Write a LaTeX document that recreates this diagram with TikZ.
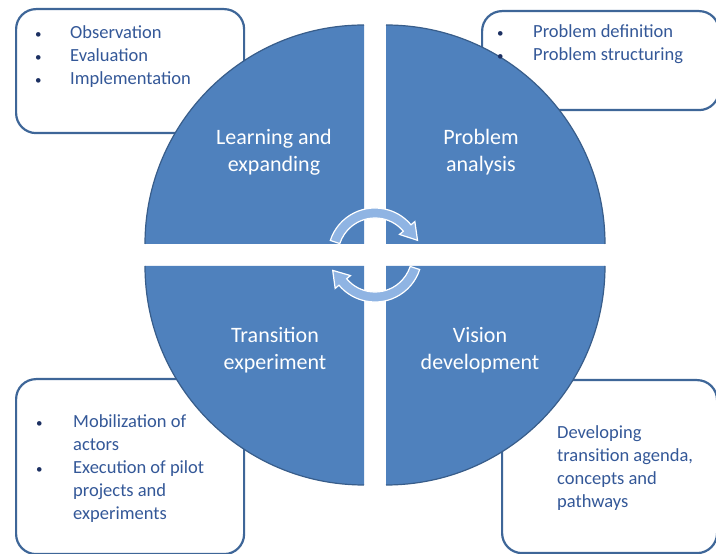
\documentclass[tikz,border=0pt]{standalone}
\usepackage{fontspec}
\setmainfont{Carlito}
\usepackage{array}
\usepackage{tikz}

\definecolor{quadblue}{RGB}{79,129,189}
\definecolor{quadedge}{RGB}{56,93,138}
\definecolor{boxedge}{RGB}{62,102,152}
\definecolor{boxtext}{RGB}{52,88,152}
\definecolor{bulletcol}{RGB}{28,48,98}
\definecolor{turnblue}{RGB}{143,180,227}
\newcommand{\itm}{\textcolor{bulletcol}{\fontsize{13}{13}\selectfont\textbullet}}

\begin{document}
\begin{tikzpicture}[x=1pt,y=1pt,
    box/.style={draw=boxedge,line width=2.2pt,fill=white,rounded corners=20pt,anchor=north west,inner sep=0pt},
    rim/.style={draw=quadedge,line width=1.2pt},
    phase/.style={text=white,font=\fontsize{22}{27}\selectfont,align=center,anchor=base,inner sep=0pt},
    items/.style={text=boxtext,font=\fontsize{18.5}{23}\selectfont,anchor=base west,inner sep=0pt,align=left},
    turn/.style={fill=turnblue,draw=white,line width=1.2pt}]
  \clip (0,0) rectangle (716,554);
  \node[box,minimum width=228,minimum height=124] (learnbox) at (15,546) {};
  \node[box,minimum width=237,minimum height=99] (problembox) at (481,544) {};
  \node[box,minimum width=228,minimum height=175] (experimentbox) at (15,176) {};
  \node[box,minimum width=215,minimum height=173] (visionbox) at (501,175) {};
  \foreach \cx/\cy/\a in {364/310/90, 386/310/0, 364/288/180, 386/288/270} {
    \fill[quadblue] (\cx,\cy) -- ++(\a:219) arc[start angle=\a,end angle=\a+90,radius=219] -- cycle;
    \draw[rim] (\cx,\cy) ++(\a:219) arc[start angle=\a,end angle=\a+90,radius=219];
  }
  \begin{scope}[shift={(375,299)}]
    \filldraw[turn] (162:47) arc[start angle=162,end angle=40,radius=47] -- (40:52) -- (19:45)
      -- (40:32) -- (40:37) arc[start angle=40,end angle=162,radius=37] -- cycle;
    \filldraw[turn] (-18:47) arc[start angle=-18,end angle=-140,radius=47] -- (-140:52) -- (-160:45)
      -- (-140:32) -- (-140:37) arc[start angle=-140,end angle=-18,radius=37] -- cycle;
  \end{scope}
  \node[phase] (learn) at (274,382) {Learning and\\expanding};
  \node[phase] (problem) at (481,382) {Problem\\analysis};
  \node[phase] (experiment) at (275,184) {Transition\\experiment};
  \node[phase] (vision) at (480,184) {Vision\\development};
  \node[items] (learnlist) at (35,515) {\begin{tabular}[t]{@{}p{35pt}@{}l@{}}
    \itm & Observation\\ \itm & Evaluation\\ \itm & Implementation
  \end{tabular}};
  \node[items] (problemlist) at (497,516) {\begin{tabular}[t]{@{}p{36pt}@{}l@{}}
    \itm & Problem definition\\ \itm & Problem structuring
  \end{tabular}};
  \node[items] (experimentlist) at (36,126) {\begin{tabular}[t]{@{}p{37pt}@{}l@{}}
    \itm & Mobilization of\\ & actors\\ \itm & Execution of pilot\\ & projects and\\ & experiments
  \end{tabular}};
  \node[items] (visionlist) at (557,46) {Developing\\transition agenda,\\concepts and\\pathways};
\end{tikzpicture}
\end{document}
